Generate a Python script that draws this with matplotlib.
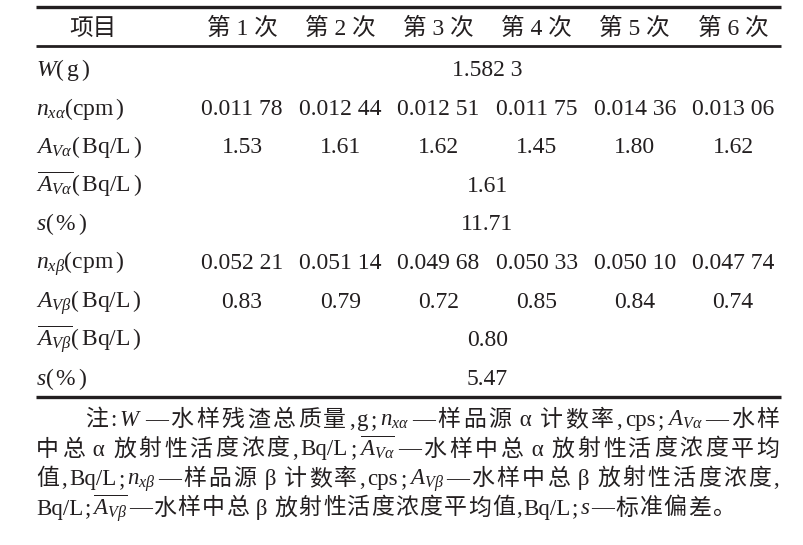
import matplotlib
matplotlib.use("Agg")
import matplotlib.pyplot as plt

# 字体：西文用 Times 风格，中文回退到 Noto Sans CJK
plt.rcParams["font.family"] = ["Liberation Serif", "Noto Sans CJK SC"]
plt.rcParams["mathtext.fontset"] = "custom"
plt.rcParams["mathtext.rm"] = "Liberation Serif"
plt.rcParams["mathtext.it"] = "Liberation Serif:italic"
plt.rcParams["mathtext.bf"] = "Liberation Serif:bold"

# ============================================================
#  数据
# ============================================================
header_item = "项目"
runs = ["第 1 次", "第 2 次", "第 3 次", "第 4 次", "第 5 次", "第 6 次"]

row_labels = [
    r"$W\mathrm{(\,g\,)}$",
    r"$n_{x\alpha}\mathrm{(cpm\,)}$",
    r"$A_{V\alpha}\mathrm{(\,Bq/L\,)}$",
    r"$\overline{A_{V\alpha}}\mathrm{(\,Bq/L\,)}$",
    r"$s\mathrm{(\,\%\,)}$",
    r"$n_{x\beta}\mathrm{(cpm\,)}$",
    r"$A_{V\beta}\mathrm{(\,Bq/L\,)}$",
    r"$\overline{A_{V\beta}}\mathrm{(\,Bq/L\,)}$",
    r"$s\mathrm{(\,\%\,)}$",
]

W_mass = "1.582 3"
n_alpha = ["0.011 78", "0.012 44", "0.012 51", "0.011 75", "0.014 36", "0.013 06"]
A_alpha = ["1.53", "1.61", "1.62", "1.45", "1.80", "1.62"]
A_alpha_mean = "1.61"
s_alpha = "11.71"
n_beta = ["0.052 21", "0.051 14", "0.049 68", "0.050 33", "0.050 10", "0.047 74"]
A_beta = ["0.83", "0.79", "0.72", "0.85", "0.84", "0.74"]
A_beta_mean = "0.80"
s_beta = "5.47"

# 每行：单个值（合并居中）或六个值
row_values = [W_mass, n_alpha, A_alpha, A_alpha_mean, s_alpha,
              n_beta, A_beta, A_beta_mean, s_beta]

note_lines = [
    r"注:$W$—水样残渣总质量,g;$n_{x\alpha}$—样品源α计数率,cps;$A_{V\alpha}$—水样",
    r"中总α放射性活度浓度,Bq/L;$\overline{A_{V\alpha}}$—水样中总α放射性活度浓度平均",
    r"值,Bq/L;$n_{x\beta}$—样品源β计数率,cps;$A_{V\beta}$—水样中总β放射性活度浓度,",
    r"Bq/L;$\overline{A_{V\beta}}$—水样中总β放射性活度浓度平均值,Bq/L;$s$—标准偏差。",
]


def tokenize(line):
    """把一行表注拆成逐字的小段，便于两端对齐"""
    toks, i = [], 0
    while i < len(line):
        c = line[i]
        if c == "$":
            j = line.index("$", i + 1)
            toks.append(line[i:j + 1])
            i = j + 1
        elif c in "αβ":
            toks.append(f" {c} ")
            i += 1
        elif c.isascii() and (c.isalnum() or c == "/"):
            j = i
            while j < len(line) and line[j].isascii() and (line[j].isalnum() or line[j] == "/"):
                j += 1
            toks.append(line[i:j])
            i = j
        else:
            toks.append(c)
            i += 1
    return toks


# ============================================================
#  绘制
# ============================================================
W_PX, H_PX = 804, 545
fig = plt.figure(figsize=(W_PX / 100, H_PX / 100), dpi=100)
ax = fig.add_axes([0, 0, 1, 1])
ax.set_xlim(0, W_PX)
ax.set_ylim(H_PX, 0)
ax.axis("off")

ink = "#231f20"
left, right = 36, 781
col_x = [242 + 98.2 * i for i in range(len(runs))]
merged_x = (col_x[2] + col_x[3]) / 2
fs = 17

# 三线表
ax.plot([left, right], [7, 7], color=ink, lw=2.4, solid_capstyle="butt")
ax.plot([left, right], [46, 46], color=ink, lw=2.0, solid_capstyle="butt")
ax.plot([left, right], [397, 397], color=ink, lw=2.4, solid_capstyle="butt")

# 表头
ax.text(93, 35, header_item, ha="center", va="baseline", fontsize=fs, color=ink)
for x, r in zip(col_x, runs):
    ax.text(x, 35, r, ha="center", va="baseline", fontsize=fs, color=ink)

# 表体
row_y0, row_step = 76, 38.6
for i, (lab, vals) in enumerate(zip(row_labels, row_values)):
    y = row_y0 + i * row_step
    ax.text(left, y, lab, ha="left", va="baseline", fontsize=fs, color=ink)
    if isinstance(vals, str):
        ax.text(merged_x, y, vals, ha="center", va="baseline", fontsize=fs, color=ink)
    else:
        for x, v in zip(col_x, vals):
            ax.text(x, y, v, ha="center", va="baseline", fontsize=fs, color=ink)

# 表注（前几行两端对齐，末行自然排到约 733 px 处结束）
renderer = fig.canvas.get_renderer()
note_y0, note_step = 426, 29.5
line_ends = [779, 779, 779, 735]
for i, line in enumerate(note_lines):
    x0 = 85 if i == 0 else left
    y = note_y0 + i * note_step
    texts = [ax.text(0, y, t, ha="left", va="baseline", fontsize=16.5, color=ink)
             for t in tokenize(line)]
    widths = [t.get_window_extent(renderer).width for t in texts]
    gap = (line_ends[i] - x0 - sum(widths)) / (len(texts) - 1)
    x = x0
    for t, w in zip(texts, widths):
        t.set_x(x)
        x += w + gap

plt.savefig("out.png", dpi=100, facecolor="white")
plt.close()
